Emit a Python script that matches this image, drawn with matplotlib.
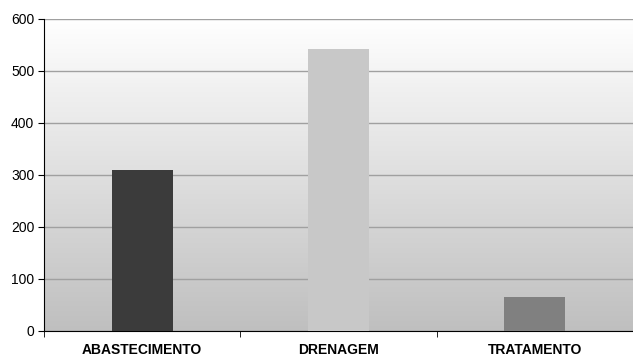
import numpy as np
import matplotlib.pyplot as plt
from matplotlib.colors import LinearSegmentedColormap

categories = ["ABASTECIMENTO", "DRENAGEM", "TRATAMENTO"]
values = [310, 542, 65]
colors = ["#3b3b3b", "#c8c8c8", "#808080"]

plt.rcParams['font.family'] = ['Liberation Sans', 'DejaVu Sans']

fig = plt.figure(figsize=(6.33, 3.59), dpi=100)
ax = fig.add_axes([44/633, 28/359, 589/633, 312/359])

# gradient background
grad = np.linspace(0, 1, 256).reshape(-1, 1)
cmap = LinearSegmentedColormap.from_list("bg", ["#ffffff", "#bfbfbf"])
ax.imshow(grad, aspect="auto", cmap=cmap, extent=[0, 1, 0, 1],
          transform=ax.transAxes, zorder=0)

x = np.arange(len(categories))
ax.bar(x, values, width=0.31, color=colors, zorder=3)

ax.set_xlim(-0.5, 2.5)
ax.set_ylim(0, 600)
ax.set_yticks(range(0, 601, 100))
ax.yaxis.grid(True, color="#a0a0a0", linewidth=1, zorder=1)
ax.set_axisbelow(True)

ax.set_xticks(x)
ax.set_xticklabels(categories, fontweight="bold", fontsize=10)
ax.set_xticks([-0.5, 0.5, 1.5, 2.5], minor=True)
ax.tick_params(axis="x", which="major", length=0, pad=9)
ax.tick_params(axis="x", which="minor", length=4, direction="out")
ax.tick_params(axis="y", length=4, direction="out", labelsize=10, pad=3)

ax.spines["right"].set_visible(False)
ax.spines["top"].set_visible(False)
ax.spines["left"].set_color("black")
ax.spines["bottom"].set_color("black")

fig.savefig("out.png", dpi=100)
